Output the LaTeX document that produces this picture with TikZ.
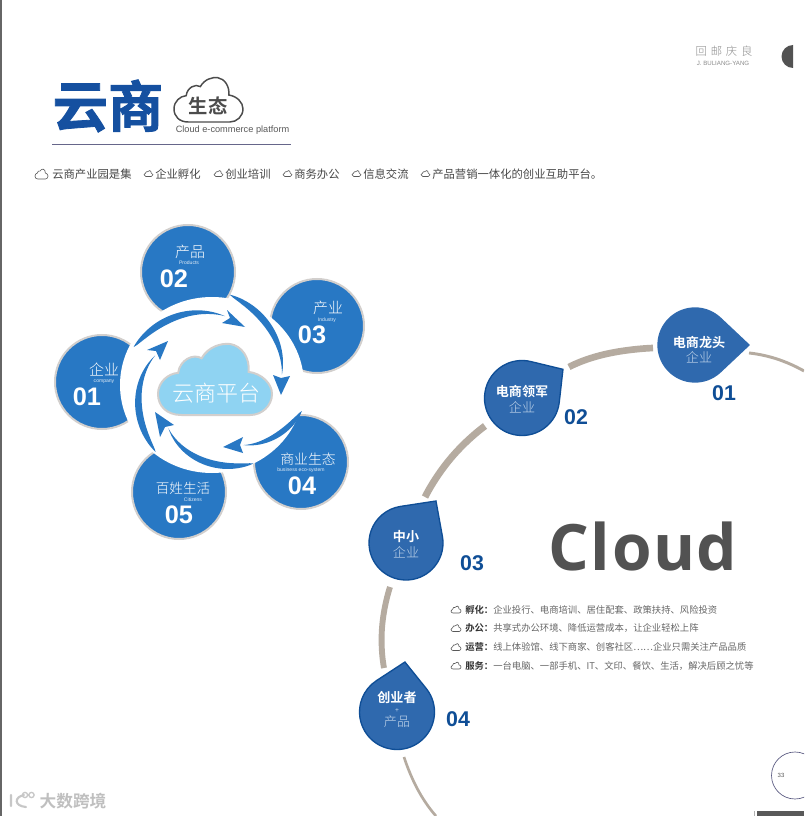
\documentclass[tikz,border=0pt]{standalone}
\usepackage{fontspec}
\setmainfont{Liberation Sans}
\newfontfamily\cjk[BoldFont={Noto Sans CJK SC Bold}]{Noto Sans CJK SC}
\newfontfamily\cjkl{Noto Sans CJK SC Light}
\newfontfamily\opensans{Open Sans}
\newcommand\fsz[1]{\fontsize{#1}{#1}\selectfont}
\definecolor{flower}{HTML}{2878C4}
\definecolor{ringgray}{HTML}{D2CFCD}
\definecolor{dropfill}{HTML}{2F69AE}
\definecolor{dropedge}{HTML}{0F4E96}
\definecolor{track}{HTML}{B5ABA0}
\definecolor{titleblue}{HTML}{1550A0}
\definecolor{skycloud}{HTML}{8FD3F2}
\definecolor{softblue}{HTML}{C6D8EC}
\tikzset{
 petal/.style={circle,fill=flower,draw=ringgray,line width=1.5pt,minimum size=70.5pt,inner sep=0pt},
 zhwhite/.style={text=white,font=\cjkl\fsz{#1},inner sep=0pt},
 enwhite/.style={text=white!85!flower,font=\fsz{3.8},inner sep=0pt},
 numwhite/.style={text=white,font=\bfseries\fsz{19},inner sep=0pt},
 dropbold/.style={text=white,font=\cjk\bfseries\fsz{9.8},inner sep=0pt},
 dropsub/.style={text=softblue,font=\cjkl\fsz{9.8},inner sep=0pt},
 dropnum/.style={text=dropedge,font=\bfseries\fsz{16},inner sep=0pt},
 dropshape/.style={fill=dropfill,draw=dropedge,line width=1pt,preaction={draw=white,line width=4.5pt}},
 trackline/.style={draw=track,line cap=butt},
 headtext/.style={text=black!72,font=\cjk\fsz{8.5},inner sep=0pt,anchor=west},
 bodytext/.style={text=black!60,font=\cjk\fsz{7},inner sep=0pt,anchor=west},
 bulletcloud/.style={draw=black!65,line width=.45pt,fill=white},
}
% cloud outline, box given by x y w h
\newcommand\cloudshape[5]{%
 \begin{scope}[shift={(#2,#3)},xscale=#4/340,yscale=#5/212]
 \path[#1] (70,212) .. controls (25,212) and (0,185) .. (0,150)
  .. controls (0,115) and (30,90) .. (60,88)
  .. controls (65,50) and (105,30) .. (130,45)
  .. controls (150,10) and (190,0) .. (215,3)
  .. controls (250,8) and (275,45) .. (270,85)
  .. controls (310,90) and (340,120) .. (340,150)
  .. controls (340,185) and (310,212) .. (275,212) -- cycle;
 \end{scope}}
% teardrop: centre x y, radius, tip angle, tip distance
\newcommand\teardrop[6][]{%
 \pgfmathsetmacro\tb{acos(#4/#6)}%
 \pgfmathsetmacro\ta{#5+\tb}%
 \pgfmathsetmacro\te{#5-\tb+360}%
 \path[dropshape,#1] (#2,#3)+(#5:#6) -- +(\ta:#4) arc[start angle=\ta,end angle=\te,radius=#4] -- cycle;}
% spiral crescent around the flower centre: a0 a1 r0 r1 w
\newcommand\swirl[5]{%
 \fill[flower] plot[domain=#1:#2,samples=40,variable=\t]
   ({(#3+(#4-#3)*((\t-#1)/(#2-#1))^1.4)*cos(\t)},{(#3+(#4-#3)*((\t-#1)/(#2-#1))^1.4)*sin(\t)})
  -- plot[domain=#2:#1,samples=40,variable=\t]
   ({(#3+(#4-#3)*((\t-#1)/(#2-#1))^1.4-#5*sin(180*((\t-#1)/(#2-#1))^.7))*cos(\t)},{(#3+(#4-#3)*((\t-#1)/(#2-#1))^1.4-#5*sin(180*((\t-#1)/(#2-#1))^.7))*sin(\t)})
  -- cycle;}
\begin{document}
\begin{tikzpicture}[x=.75pt,y=-.75pt]
\clip (0,0) rectangle (804,816);
\fill[white] (0,0) rectangle (804,816);
% page edge
\fill[black!60] (0,0) rectangle (1.5,816);
% title
\node[inner sep=0pt,text=titleblue,font=\cjk\bfseries\fsz{41.5}\addfontfeature{FakeBold=1.5}] (title) at (108,106) {云商};
\cloudshape{draw=black!70,line width=1.1pt,fill=white}{174}{77}{69}{45}
\node[inner sep=0pt,text=black!70,font=\cjk\bfseries\fsz{14.5}] (shengtai) at (208,106) {生态};
\node[inner sep=0pt,text=black!65,font=\fsz{6.9}] (entitle) at (232.5,130) {Cloud e-commerce platform};
\coordinate (ruleL) at (52,144); \coordinate (ruleR) at (291,144);
\draw[color=black!30!blue!20!gray,line width=.7pt] (ruleL) -- (ruleR);
% headline
\cloudshape{bulletcloud}{35}{169}{13}{10}
\node[headtext] (h0) at (52,174) {云商产业园是集};
\cloudshape{bulletcloud}{144}{170.5}{9}{6}
\node[headtext] (h1) at (155,174) {企业孵化};
\cloudshape{bulletcloud}{214}{170.5}{9}{6}
\node[headtext] (h2) at (225,174) {创业培训};
\cloudshape{bulletcloud}{283}{170.5}{9}{6}
\node[headtext] (h3) at (294,174) {商务办公};
\cloudshape{bulletcloud}{352}{170.5}{9}{6}
\node[headtext] (h4) at (363,174) {信息交流};
\cloudshape{bulletcloud}{421}{170.5}{9}{6}
\node[headtext] (h5) at (432,174) {产品营销一体化的创业互助平台。};
% top right
\node[inner sep=0pt,text=black!45,font=\cjkl\fsz{8.5}] (mark) at (724,51) {回\,\,邮\,\,庆\,\,良};
\node[inner sep=0pt,text=black!45,font=\fsz{4.6}] (markEn) at (723,63) {J. BULIANG-YANG};
\fill[black!68] (793,45) arc[start angle=270,end angle=90,radius=11.5] -- cycle;
% flower petals
\node[petal] (p2) at (188,272) {};
\node[petal] (p3) at (317,326) {};
\node[petal] (p4) at (301,462) {};
\node[petal] (p5) at (179,492) {};
\node[petal] (p1) at (102,382) {};
\fill[white] (212,385) ellipse[x radius=92,y radius=88];
\begin{scope}[shift={(212,387)}]
 \swirl{207}{280.5}{88}{72}{7}
 \swirl{281}{350}{94}{71}{7}
 \swirl{15}{61.6}{93}{66}{6}
 \swirl{61.6}{136.6}{87}{60}{7}
 \swirl{131}{209}{86}{65}{7}
\end{scope}
\fill[flower] (245,327) -- (227,310) -- (230,318) -- (222,323) -- cycle;
\fill[flower] (281,395) -- (273,375) -- (281,378) -- (290,376) -- cycle;
\fill[flower] (223,447) -- (243,437) -- (240,445) -- (243,453) -- cycle;
\fill[flower] (155,412) -- (174,425) -- (165,427) -- (160,437) -- cycle;
\fill[flower] (168,341) -- (147,350) -- (156,351) -- (160,360) -- cycle;
\cloudshape{fill=skycloud,draw=ringgray,line width=1.5pt}{158}{343}{114}{72}
\node[zhwhite=16.5] (hubtxt) at (216,393) {云商平台};
% petal texts
\node[zhwhite=11.2] (t2a) at (190,252) {产品};
\node[enwhite] (t2b) at (189,263) {Products};
\node[numwhite] (t2c) at (174,279) {02};
\node[zhwhite=11.2] (t3a) at (328,308) {产业};
\node[enwhite] (t3b) at (327,320) {Industry};
\node[numwhite] (t3c) at (312,335) {03};
\node[zhwhite=10.4] (t4a) at (308,459) {商业生态};
\node[enwhite] (t4b) at (301,470) {business eco-system};
\node[numwhite] (t4c) at (302,486) {04};
\node[zhwhite=10.2] (t5a) at (183,488) {百姓生活};
\node[enwhite] (t5b) at (193,500) {Citizens};
\node[numwhite] (t5c) at (179,515) {05};
\node[zhwhite=11.2] (t1a) at (104,370) {企业};
\node[enwhite] (t1b) at (104,382) {company};
\node[numwhite] (t1c) at (87,397) {01};
% track
\coordinate (a1) at (749,353); \coordinate (a2) at (777,359); \coordinate (a3) at (804,371);
\coordinate (b1) at (569,367); \coordinate (b2) at (606,354); \coordinate (b3) at (653,348);
\coordinate (c1) at (485,426); \coordinate (c2) at (451,458); \coordinate (c3) at (425,497);
\coordinate (d1) at (390,587); \coordinate (d2) at (382,628); \coordinate (d3) at (384,668);
\coordinate (e1) at (404,757); \coordinate (e2) at (418,790); \coordinate (e3) at (436,816);
\draw[trackline,line width=2.2pt] plot[smooth,tension=1] coordinates {(a1) (a2) (a3)};
\draw[trackline,line width=5pt] plot[smooth,tension=1] coordinates {(b1) (b2) (b3)};
\draw[trackline,line width=5.2pt] plot[smooth,tension=1] coordinates {(c1) (c2) (c3)};
\draw[trackline,line width=4.4pt] plot[smooth,tension=1] coordinates {(d1) (d2) (d3)};
\draw[trackline,line width=2pt] plot[smooth,tension=1] coordinates {(e1) (e2) (e3)};
% drops
\teardrop[draw=dropfill]{695}{345}{37}{0}{54}
\teardrop{522}{398}{37.5}{-35}{50}
\teardrop{406}{543}{37}{-54.5}{51.6}
\teardrop{397}{712}{37.5}{-81}{50.6}
\node[dropbold] (d1a) at (699,342) {电商龙头};
\node[dropsub] (d1b) at (699,357) {企业};
\node[dropnum] (d1c) at (724,393) {01};
\node[dropbold] (d2a) at (522,392) {电商领军};
\node[dropsub] (d2b) at (522,407) {企业};
\node[dropnum] (d2c) at (576,417) {02};
\node[dropbold] (d3a) at (406,537) {中小};
\node[dropsub] (d3b) at (406,552) {企业};
\node[dropnum] (d3c) at (472,563) {03};
\node[dropbold] (d4a) at (397,698) {创业者};
\node[inner sep=0pt,text=softblue,font=\fsz{5}] (d4p) at (397,711) {+};
\node[dropsub] (d4b) at (397,722) {产品};
\node[dropnum] (d4c) at (458,719) {04};
% Cloud
\node[inner sep=0pt,text=black!68,font=\opensans\bfseries\fsz{48}\addfontfeature{LetterSpace=2.5}] (cloudword) at (643,546) {Cloud};
% list
\cloudshape{bulletcloud}{451}{606}{10}{7}
\node[bodytext] (l1) at (465,610) {{\bfseries\color{black!80}孵化：}企业投行、电商培训、居住配套、政策扶持、风险投资};
\cloudshape{bulletcloud}{451}{624.5}{10}{7}
\node[bodytext] (l2) at (465,628) {{\bfseries\color{black!80}办公：}共享式办公环境、降低运营成本，让企业轻松上阵};
\cloudshape{bulletcloud}{451}{643.5}{10}{7}
\node[bodytext] (l3) at (465,647) {{\bfseries\color{black!80}运营：}线上体验馆、线下商家、创客社区……企业只需关注产品品质};
\cloudshape{bulletcloud}{451}{662}{10}{7}
\node[bodytext] (l4) at (465,666) {{\bfseries\color{black!80}服务：}一台电脑、一部手机、IT、文印、餐饮、生活，解决后顾之忧等};
% page number
\draw[color=black!50!blue!30!gray,line width=.5pt] (795,775.5) circle[radius=23.5];
\node[inner sep=0pt,text=black!65,font=\fsz{4.5}] (pg) at (781,775) {33};
\fill[black!65] (757,811) rectangle (804,816);
\fill[black!30] (754,811) rectangle (755,816);
% watermark
\draw[black!22,line width=1.6pt,line cap=round] (11,795) -- (11,806) (24,795) .. controls (14,797) and (14,806) .. (26,807);
\draw[black!22,line width=1pt] (25,795) circle[radius=2.6] (31.5,795) circle[radius=2.6];
\node[inner sep=0pt,text=black!25,font=\cjk\bfseries\fsz{12.5}] (wm) at (73,801) {大数跨境};
\end{tikzpicture}
\end{document}
